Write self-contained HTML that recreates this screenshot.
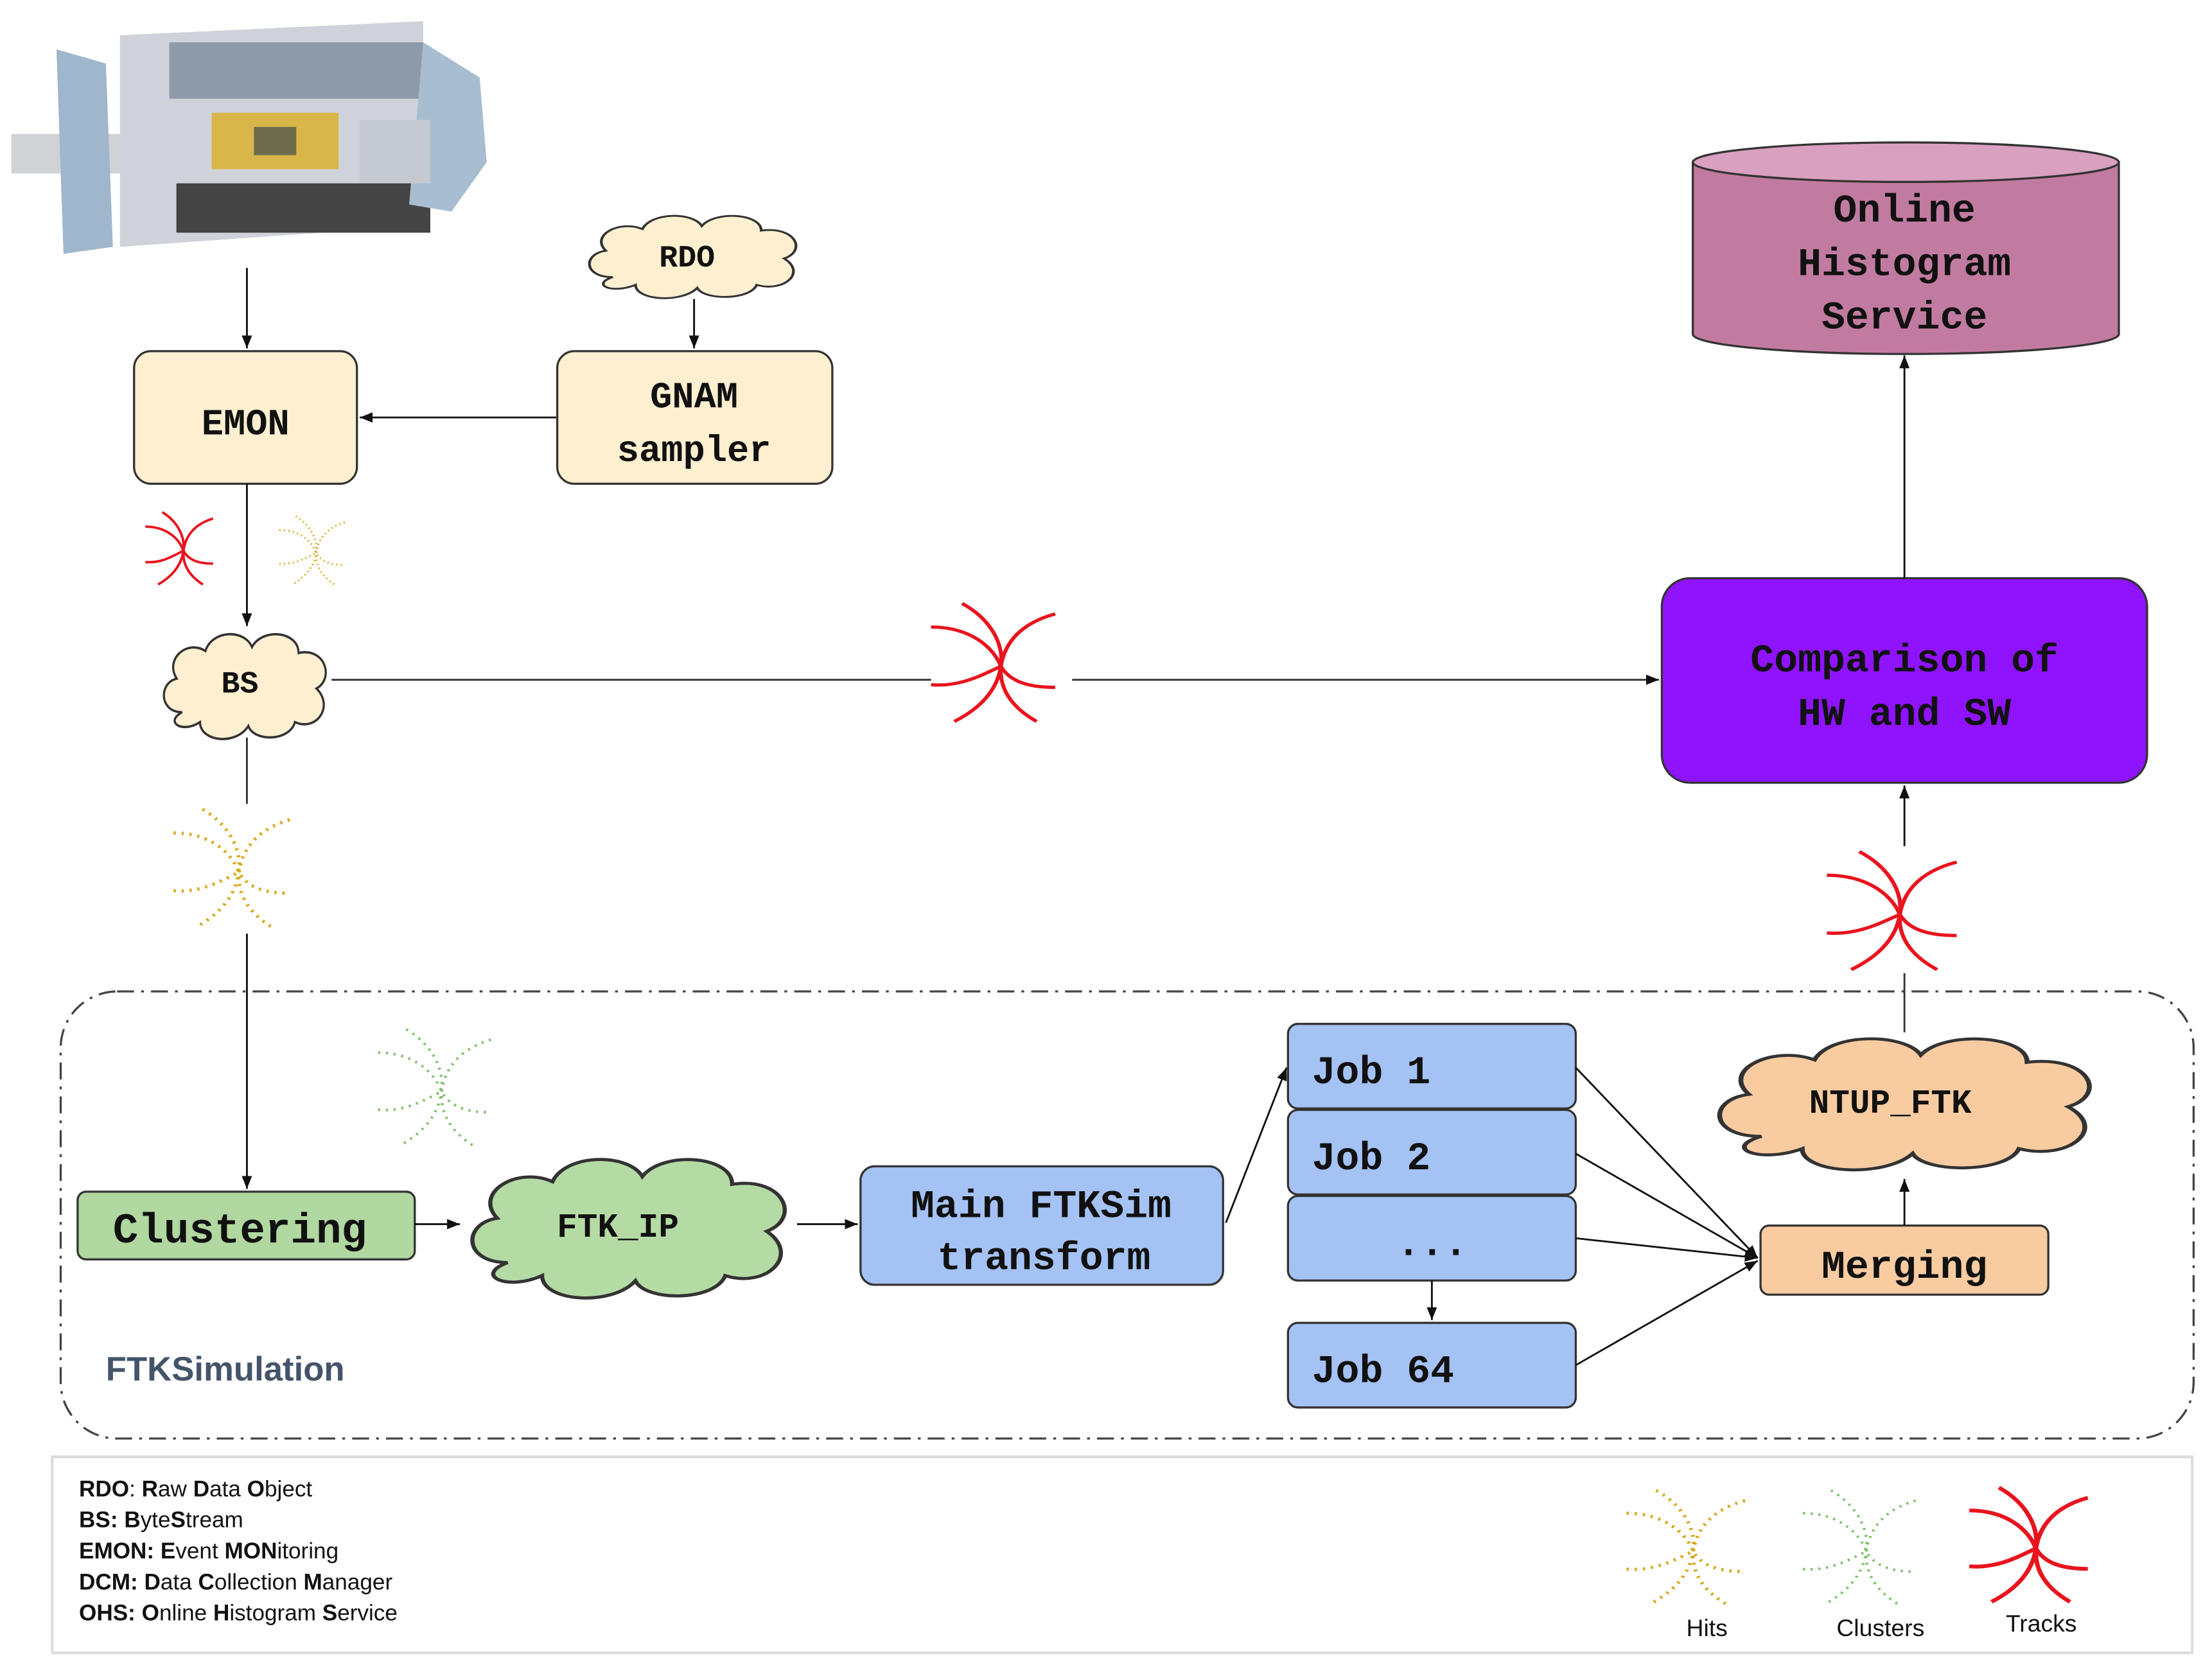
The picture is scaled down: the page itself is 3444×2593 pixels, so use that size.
<!DOCTYPE html>
<html><head><meta charset="utf-8"><style>
html,body{margin:0;padding:0;background:#fff}
svg{display:block}
.m{font-family:"Liberation Mono",monospace;font-weight:bold;fill:#111}
.s{font-family:"Liberation Sans",sans-serif}
</style></head><body>
<svg width="3444" height="2593" viewBox="0 0 1568 1180.6" xmlns="http://www.w3.org/2000/svg">
<defs>
<marker id="a" viewBox="0 0 10 10" refX="10" refY="5" markerWidth="7" markerHeight="7" orient="auto"><path d="M0,1 L10,5 L0,9 Z" fill="#111"/></marker>
<path id="cl" d="M15,45 C2,45 2,30 12,28 C5,18 18,8 28,14 C32,3 50,3 54,12 C60,2 80,4 80,15 C95,12 100,28 90,33 C100,42 90,55 78,50 C75,60 55,60 52,52 C45,62 25,60 25,50 C15,56 5,50 15,45 Z"/>
<g id="trk" fill="none">
<path d="M20,2 C40,15 47,35 45,50 C44,65 50,80 68,92"/>
<path d="M80,10 C55,18 47,35 45,50 C43,65 35,80 15,92"/>
<path d="M0,20 C25,20 40,35 45,50 C50,60 60,66 80,66"/>
<path d="M0,64 C20,66 35,55 45,50"/>
</g>
</defs>
<rect width="1568" height="1180.6" fill="#fff"/>

<!-- detector -->
<g>
<rect x="8" y="95" width="80" height="28" fill="#d0d2d6"/>
<polygon points="40,35 75,45 80,175 45,180" fill="#9fb6cc"/>
<polygon points="85,25 300,15 300,160 85,175" fill="#cfd3d9"/>
<rect x="120" y="30" width="180" height="40" fill="#8e9aa8"/>
<rect x="125" y="130" width="180" height="35" fill="#444"/>
<rect x="150" y="80" width="90" height="40" fill="#d8b64a"/>
<rect x="180" y="90" width="30" height="20" fill="#6b6b4c"/>
<polygon points="300,30 340,55 345,115 320,150 290,145" fill="#a9bdd1"/>
<rect x="255" y="85" width="50" height="45" fill="#c5cad0"/>
</g>

<!-- arrows top -->
<line x1="175" y1="190" x2="175" y2="247" stroke="#111" stroke-width="1.3" marker-end="url(#a)"/>
<line x1="492" y1="212" x2="492" y2="247" stroke="#111" stroke-width="1.3" marker-end="url(#a)"/>
<line x1="395" y1="296" x2="255" y2="296" stroke="#111" stroke-width="1.3" marker-end="url(#a)"/>

<!-- RDO cloud -->
<use href="#cl" transform="translate(410,147) scale(1.62,1.1)" fill="#fdefd0" stroke="#333" stroke-width="1.2"/>
<text x="487" y="189" class="m" font-size="22" text-anchor="middle">RDO</text>

<rect x="95" y="249" width="158" height="94" rx="12" fill="#fdefd0" stroke="#333" stroke-width="1.5"/>
<text x="174" y="308" class="m" font-size="26" text-anchor="middle">EMON</text>
<rect x="395" y="249" width="195" height="94" rx="12" fill="#fdefd0" stroke="#333" stroke-width="1.5"/>
<text x="492" y="289" class="m" font-size="26" text-anchor="middle">GNAM</text>
<text x="492" y="327" class="m" font-size="26" text-anchor="middle">sampler</text>

<!-- EMON to BS -->
<line x1="175" y1="343" x2="175" y2="444" stroke="#111" stroke-width="1.3" marker-end="url(#a)"/>
<use href="#trk" transform="translate(103,362) scale(0.6,0.57)" stroke="#e8141e" stroke-width="3"/>
<use href="#trk" transform="translate(198,365) scale(0.58,0.54)" stroke="#d4a81c" stroke-width="2.5" stroke-dasharray="1.5 4"/>

<!-- BS cloud -->
<use href="#cl" transform="translate(110,442) scale(1.27,1.4)" fill="#fdefd0" stroke="#333" stroke-width="1.2"/>
<text x="170" y="491" class="m" font-size="22" text-anchor="middle">BS</text>

<line x1="235" y1="482" x2="660" y2="482" stroke="#333" stroke-width="1.3"/>
<use href="#trk" transform="translate(660,426) scale(1.1,0.93)" stroke="#e8141e" stroke-width="2.5"/>
<line x1="760" y1="482" x2="1176" y2="482" stroke="#333" stroke-width="1.3" marker-end="url(#a)"/>

<rect x="1178" y="410" width="344" height="145" rx="20" fill="#9013fe" stroke="#333" stroke-width="1.5"/>
<text x="1350" y="476" class="m" font-size="28" text-anchor="middle">Comparison of</text>
<text x="1350" y="514" class="m" font-size="28" text-anchor="middle">HW and SW</text>

<line x1="1350" y1="410" x2="1350" y2="252" stroke="#111" stroke-width="1.3" marker-end="url(#a)"/>
<!-- cylinder -->
<path d="M1200,115 L1200,237 A151,14 0 0 0 1502,237 L1502,115 Z" fill="#c27ba0" stroke="#333" stroke-width="1.5"/>
<ellipse cx="1351" cy="115" rx="151" ry="14" fill="#d9a0c0" stroke="#333" stroke-width="1.5"/>
<text x="1350" y="157" class="m" font-size="28" text-anchor="middle">Online</text>
<text x="1350" y="195" class="m" font-size="28" text-anchor="middle">Histogram</text>
<text x="1350" y="233" class="m" font-size="28" text-anchor="middle">Service</text>

<!-- BS down -->
<line x1="175" y1="523" x2="175" y2="570" stroke="#333" stroke-width="1.3"/>
<use href="#trk" transform="translate(123,572) scale(1.03,0.93)" stroke="#d4a81c" stroke-width="2.5" stroke-dasharray="1.5 4"/>
<line x1="175" y1="662" x2="175" y2="843" stroke="#111" stroke-width="1.3" marker-end="url(#a)"/>

<!-- sim region -->
<rect x="43" y="703" width="1512" height="317" rx="40" fill="none" stroke="#444" stroke-width="1.5" stroke-dasharray="12 5 2 5"/>
<use href="#trk" transform="translate(268,728) scale(1.0,0.92)" stroke="#7fbf6a" stroke-width="2" stroke-dasharray="1.5 4"/>

<rect x="55" y="845" width="239" height="48" rx="6" fill="#b0d8a0" stroke="#333" stroke-width="1.5"/>
<text x="170" y="881" class="m" font-size="30" text-anchor="middle">Clustering</text>
<line x1="294" y1="868" x2="326" y2="868" stroke="#111" stroke-width="1.3" marker-end="url(#a)"/>

<use href="#cl" transform="translate(323,812) scale(2.45,1.85)" fill="#b5dba5" stroke="#333" stroke-width="1.2"/>
<text x="438" y="877" class="m" font-size="24" text-anchor="middle">FTK_IP</text>
<line x1="565" y1="868" x2="608" y2="868" stroke="#111" stroke-width="1.3" marker-end="url(#a)"/>

<rect x="610" y="827" width="257" height="84" rx="10" fill="#a4c2f4" stroke="#333" stroke-width="1.5"/>
<text x="738" y="863" class="m" font-size="28" text-anchor="middle">Main FTKSim</text>
<text x="740" y="900" class="m" font-size="28" text-anchor="middle">transform</text>
<line x1="869" y1="867" x2="912" y2="757" stroke="#111" stroke-width="1.3" marker-end="url(#a)"/>

<g stroke="#333" stroke-width="1.5" fill="#a4c2f4">
<rect x="913" y="726" width="204" height="60" rx="7"/>
<rect x="913" y="787" width="204" height="60" rx="7"/>
<rect x="913" y="848" width="204" height="60" rx="7"/>
<rect x="913" y="938" width="204" height="60" rx="7"/>
</g>
<text x="930" y="768" class="m" font-size="28">Job 1</text>
<text x="930" y="829" class="m" font-size="28">Job 2</text>
<text x="990" y="890" class="m" font-size="28">...</text>
<text x="930" y="980" class="m" font-size="28">Job 64</text>
<line x1="1015" y1="908" x2="1015" y2="936" stroke="#111" stroke-width="1.3" marker-end="url(#a)"/>
<g stroke="#111" stroke-width="1.3" marker-end="url(#a)">
<line x1="1117" y1="757" x2="1246" y2="892"/>
<line x1="1117" y1="818" x2="1246" y2="892"/>
<line x1="1117" y1="878" x2="1246" y2="892"/>
<line x1="1117" y1="968" x2="1246" y2="894"/>
</g>

<rect x="1248" y="869" width="204" height="49" rx="6" fill="#f8cba1" stroke="#333" stroke-width="1.5"/>
<text x="1350" y="906" class="m" font-size="28" text-anchor="middle">Merging</text>
<line x1="1350" y1="869" x2="1350" y2="836" stroke="#111" stroke-width="1.3" marker-end="url(#a)"/>

<use href="#cl" transform="translate(1205,727) scale(2.9,1.75)" fill="#f8cba1" stroke="#333" stroke-width="1.2"/>
<text x="1340" y="789" class="m" font-size="24" text-anchor="middle">NTUP_FTK</text>
<line x1="1350" y1="732" x2="1350" y2="690" stroke="#333" stroke-width="1.3"/>
<use href="#trk" transform="translate(1295,602) scale(1.15,0.93)" stroke="#e8141e" stroke-width="2.5"/>
<line x1="1350" y1="600" x2="1350" y2="557" stroke="#111" stroke-width="1.3" marker-end="url(#a)"/>

<text x="75" y="979" class="s" font-size="24" font-weight="bold" fill="#44546a">FTKSimulation</text>

<!-- legend -->
<rect x="37" y="1033" width="1517" height="139" fill="none" stroke="#ddd" stroke-width="2"/>
<g class="s" font-size="16" fill="#111">
<text x="56" y="1061"><tspan font-weight="bold">RDO</tspan>: <tspan font-weight="bold">R</tspan>aw <tspan font-weight="bold">D</tspan>ata <tspan font-weight="bold">O</tspan>bject</text>
<text x="56" y="1083"><tspan font-weight="bold">BS:</tspan> <tspan font-weight="bold">B</tspan>yte<tspan font-weight="bold">S</tspan>tream</text>
<text x="56" y="1105"><tspan font-weight="bold">EMON:</tspan> <tspan font-weight="bold">E</tspan>vent <tspan font-weight="bold">MON</tspan>itoring</text>
<text x="56" y="1127"><tspan font-weight="bold">DCM:</tspan> <tspan font-weight="bold">D</tspan>ata <tspan font-weight="bold">C</tspan>ollection <tspan font-weight="bold">M</tspan>anager</text>
<text x="56" y="1149"><tspan font-weight="bold">OHS:</tspan> <tspan font-weight="bold">O</tspan>nline <tspan font-weight="bold">H</tspan>istogram <tspan font-weight="bold">S</tspan>ervice</text>
</g>
<use href="#trk" transform="translate(1153,1055) scale(1.05,0.9)" stroke="#d4a81c" stroke-width="2.5" stroke-dasharray="1.5 4"/>
<use href="#trk" transform="translate(1278,1055) scale(1.0,0.9)" stroke="#7fbf6a" stroke-width="2" stroke-dasharray="1.5 4"/>
<use href="#trk" transform="translate(1396,1053) scale(1.05,0.9)" stroke="#e8141e" stroke-width="3"/>
<g class="s" font-size="17" fill="#111" text-anchor="middle">
<text x="1210" y="1160">Hits</text>
<text x="1333" y="1160">Clusters</text>
<text x="1447" y="1157">Tracks</text>
</g>
</svg>
</body></html>
